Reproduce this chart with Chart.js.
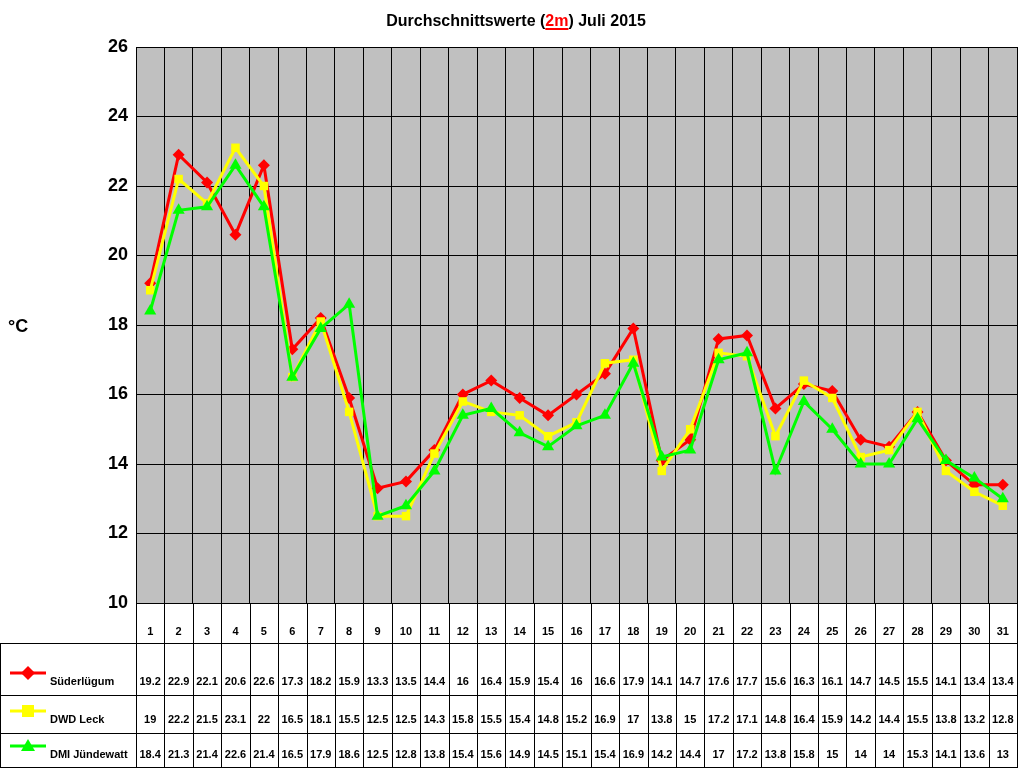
<!DOCTYPE html>
<html><head><meta charset="utf-8">
<script src="https://cdn.jsdelivr.net/npm/chart.js@4"></script>
<style>body{margin:0;background:#fff}</style></head>
<body><canvas id="c" width="1024" height="768" style="width:1024px;height:768px"></canvas>
<script>
const days = Array.from({length:31},(_,i)=>String(i+1));
const suederluegum = [19.2,22.9,22.1,20.6,22.6,17.3,18.2,15.9,13.3,13.5,14.4,16,16.4,15.9,15.4,16,16.6,17.9,14.1,14.7,17.6,17.7,15.6,16.3,16.1,14.7,14.5,15.5,14.1,13.4,13.4];
const dwdLeck = [19,22.2,21.5,23.1,22,16.5,18.1,15.5,12.5,12.5,14.3,15.8,15.5,15.4,14.8,15.2,16.9,17,13.8,15,17.2,17.1,14.8,16.4,15.9,14.2,14.4,15.5,13.8,13.2,12.8];
const dmi = [18.4,21.3,21.4,22.6,21.4,16.5,17.9,18.6,12.5,12.8,13.8,15.4,15.6,14.9,14.5,15.1,15.4,16.9,14.2,14.4,17,17.2,13.8,15.8,15,14,14,15.3,14.1,13.6,13];
const seriesNames = ['Süderlügum','DWD Leck','DMI Jündewatt'];
const colors = ['#ff0000','#ffff00','#00ff00'];
const styles = ['rectRot','rect','triangle'];
const F='Arial, "Liberation Sans", sans-serif';

const deco = {
  id:'deco',
  beforeDraw(ch){
    const {ctx,chartArea:a}=ch;
    ctx.save();ctx.fillStyle='#c0c0c0';ctx.fillRect(a.left,a.top,a.right-a.left,a.bottom-a.top);ctx.restore();
  },
  afterDraw(ch){
    const {ctx,chartArea:a}=ch; const x=ch.scales.x;
    ctx.save();
    // title
    ctx.font='bold 16px '+F;ctx.textBaseline='alphabetic';
    const p1='Durchschnittswerte (',p2='2m',p3=') Juli 2015';
    const w1=ctx.measureText(p1).width,w2=ctx.measureText(p2).width,w3=ctx.measureText(p3).width;
    let sx=516-(w1+w2+w3)/2;
    ctx.fillStyle='#000';ctx.fillText(p1,sx,26);
    ctx.fillStyle='#ff0000';ctx.fillText(p2,sx+w1,26);
    ctx.fillRect(sx+w1,28,w2,2);
    ctx.fillStyle='#000';ctx.fillText(p3,sx+w1+w2,26);
    ctx.font='bold 18px '+F;ctx.fillText('°C',8,332);
    // table
    const rows=[603,643,695,733,768];
    const cw=(a.right-a.left)/31;
    ctx.strokeStyle='#000';ctx.lineWidth=1;
    ctx.beginPath();
    for(let i=0;i<=31;i++){const xx=Math.round(a.left+i*cw)+0.5;ctx.moveTo(xx,603);ctx.lineTo(xx,768);}
    for(let r=1;r<4;r++){ctx.moveTo(0,rows[r]+0.5);ctx.lineTo(a.right,rows[r]+0.5);}
    ctx.moveTo(0.5,643);ctx.lineTo(0.5,768);
    ctx.moveTo(0,767.5);ctx.lineTo(a.right,767.5);
    ctx.stroke();
    ctx.font='bold 11px '+F;ctx.textAlign='center';ctx.fillStyle='#000';
    days.forEach((d,i)=>ctx.fillText(d,x.getPixelForValue(i),635));
    const data=[suederluegum,dwdLeck,dmi];
    data.forEach((arr,r)=>{
      const yb=rows[r+2]-10;
      arr.forEach((v,i)=>ctx.fillText(String(v),x.getPixelForValue(i),yb));
      // legend
      const ly=yb-12;
      ctx.strokeStyle=colors[r];ctx.lineWidth=3;ctx.beginPath();ctx.moveTo(10,ly);ctx.lineTo(46,ly);ctx.stroke();
      ctx.fillStyle=colors[r];ctx.beginPath();
      if(r===0){ctx.moveTo(28,ly-7);ctx.lineTo(35,ly);ctx.lineTo(28,ly+7);ctx.lineTo(21,ly);}
      else if(r===1){ctx.rect(22,ly-6,12,12);}
      else {ctx.moveTo(28,ly-7);ctx.lineTo(35,ly+5);ctx.lineTo(21,ly+5);}
      ctx.fill();
      ctx.fillStyle='#000';ctx.textAlign='left';ctx.fillText(seriesNames[r],50,yb);ctx.textAlign='center';
    });
    ctx.restore();
  }
};
const mk=(lab,d,i)=>({label:lab,data:d,borderColor:colors[i],backgroundColor:colors[i],borderWidth:3,pointStyle:styles[i],pointRadius:i===0?6:(i===1?6:7),pointBorderWidth:0,tension:0});
new Chart(document.getElementById('c'),{
  type:'line',
  data:{labels:days,datasets:[mk(seriesNames[2],dmi,2),mk(seriesNames[1],dwdLeck,1),mk(seriesNames[0],suederluegum,0)]},
  options:{responsive:false,animation:false,devicePixelRatio:1,
    layout:{padding:{top:47,right:4,left:0,bottom:0}},
    plugins:{legend:{display:false},tooltip:{enabled:false}},
    scales:{
      x:{offset:true,grid:{offset:true,color:'#000',drawTicks:false},border:{color:'#000'},ticks:{display:false},afterFit(s){s.height=165;}},
      y:{min:10,max:26,ticks:{stepSize:2,color:'#000',font:{family:F,size:18,weight:'bold'},padding:8},grid:{color:'#000',drawTicks:false},border:{color:'#000'},afterFit(s){s.width=136;}}
    }},
  plugins:[deco]
});
</script></body></html>
